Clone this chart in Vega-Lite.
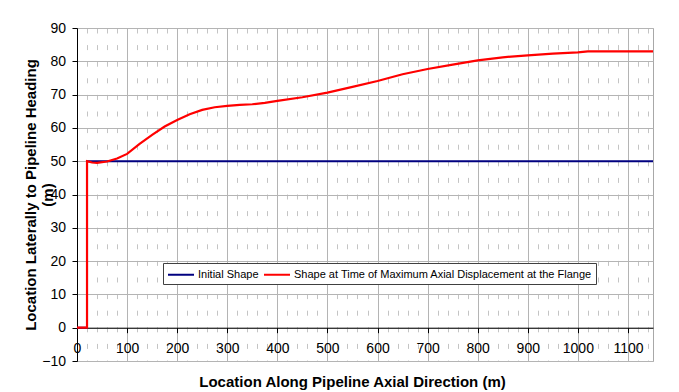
{
  "$schema": "https://vega.github.io/schema/vega-lite/v6.json",
  "width": 576,
  "height": 333,
  "autosize": {"type": "none"},
  "padding": {"left": 77, "top": 28, "right": 26, "bottom": 31},
  "background": "white",
  "config": {
    "font": "Liberation Sans",
    "view": {"stroke": "#a8a8a8", "strokeWidth": 1}
  },
  "data": {
    "values": [
      {"series": "Initial Shape", "k": 0, "x": 0, "y": 0},
      {"series": "Initial Shape", "k": 1, "x": 20, "y": 0},
      {"series": "Initial Shape", "k": 2, "x": 20, "y": 50},
      {"series": "Initial Shape", "k": 3, "x": 1150, "y": 50},
      {"series": "Shape at Time of Maximum Axial Displacement at the Flange", "k": 0, "x": 0, "y": 0},
      {"series": "Shape at Time of Maximum Axial Displacement at the Flange", "k": 1, "x": 20, "y": 0},
      {"series": "Shape at Time of Maximum Axial Displacement at the Flange", "k": 2, "x": 20, "y": 50},
      {"series": "Shape at Time of Maximum Axial Displacement at the Flange", "k": 3, "x": 30, "y": 49.6},
      {"series": "Shape at Time of Maximum Axial Displacement at the Flange", "k": 4, "x": 40, "y": 49.5},
      {"series": "Shape at Time of Maximum Axial Displacement at the Flange", "k": 5, "x": 60, "y": 49.9},
      {"series": "Shape at Time of Maximum Axial Displacement at the Flange", "k": 6, "x": 80, "y": 50.8},
      {"series": "Shape at Time of Maximum Axial Displacement at the Flange", "k": 7, "x": 100, "y": 52.2},
      {"series": "Shape at Time of Maximum Axial Displacement at the Flange", "k": 8, "x": 125, "y": 55.2},
      {"series": "Shape at Time of Maximum Axial Displacement at the Flange", "k": 9, "x": 150, "y": 57.9},
      {"series": "Shape at Time of Maximum Axial Displacement at the Flange", "k": 10, "x": 175, "y": 60.4},
      {"series": "Shape at Time of Maximum Axial Displacement at the Flange", "k": 11, "x": 200, "y": 62.4},
      {"series": "Shape at Time of Maximum Axial Displacement at the Flange", "k": 12, "x": 225, "y": 64.1},
      {"series": "Shape at Time of Maximum Axial Displacement at the Flange", "k": 13, "x": 250, "y": 65.4},
      {"series": "Shape at Time of Maximum Axial Displacement at the Flange", "k": 14, "x": 275, "y": 66.2},
      {"series": "Shape at Time of Maximum Axial Displacement at the Flange", "k": 15, "x": 300, "y": 66.6},
      {"series": "Shape at Time of Maximum Axial Displacement at the Flange", "k": 16, "x": 325, "y": 66.9},
      {"series": "Shape at Time of Maximum Axial Displacement at the Flange", "k": 17, "x": 350, "y": 67.1},
      {"series": "Shape at Time of Maximum Axial Displacement at the Flange", "k": 18, "x": 375, "y": 67.5},
      {"series": "Shape at Time of Maximum Axial Displacement at the Flange", "k": 19, "x": 400, "y": 68.1},
      {"series": "Shape at Time of Maximum Axial Displacement at the Flange", "k": 20, "x": 450, "y": 69.2},
      {"series": "Shape at Time of Maximum Axial Displacement at the Flange", "k": 21, "x": 500, "y": 70.6},
      {"series": "Shape at Time of Maximum Axial Displacement at the Flange", "k": 22, "x": 550, "y": 72.3},
      {"series": "Shape at Time of Maximum Axial Displacement at the Flange", "k": 23, "x": 600, "y": 74.1},
      {"series": "Shape at Time of Maximum Axial Displacement at the Flange", "k": 24, "x": 650, "y": 76.1},
      {"series": "Shape at Time of Maximum Axial Displacement at the Flange", "k": 25, "x": 700, "y": 77.7},
      {"series": "Shape at Time of Maximum Axial Displacement at the Flange", "k": 26, "x": 750, "y": 79.0},
      {"series": "Shape at Time of Maximum Axial Displacement at the Flange", "k": 27, "x": 800, "y": 80.3},
      {"series": "Shape at Time of Maximum Axial Displacement at the Flange", "k": 28, "x": 850, "y": 81.2},
      {"series": "Shape at Time of Maximum Axial Displacement at the Flange", "k": 29, "x": 900, "y": 81.8},
      {"series": "Shape at Time of Maximum Axial Displacement at the Flange", "k": 30, "x": 950, "y": 82.3},
      {"series": "Shape at Time of Maximum Axial Displacement at the Flange", "k": 31, "x": 1000, "y": 82.7},
      {"series": "Shape at Time of Maximum Axial Displacement at the Flange", "k": 32, "x": 1020, "y": 83.0},
      {"series": "Shape at Time of Maximum Axial Displacement at the Flange", "k": 33, "x": 1150, "y": 83.0}
    ]
  },
  "encoding": {
    "x": {
      "field": "x",
      "type": "quantitative",
      "scale": {"domain": [0, 1150], "nice": false, "zero": false},
      "axis": {
        "values": [0, 20, 40, 60, 80, 100, 120, 140, 160, 180, 200, 220, 240, 260, 280, 300, 320, 340, 360, 380, 400, 420, 440, 460, 480, 500, 520, 540, 560, 580, 600, 620, 640, 660, 680, 700, 720, 740, 760, 780, 800, 820, 840, 860, 880, 900, 920, 940, 960, 980, 1000, 1020, 1040, 1060, 1080, 1100, 1120, 1140],
        "offset": -33.3,
        "grid": true,
        "gridColor": {"condition": {"test": "datum.value % 100 === 0", "value": "#b4b4b4"}, "value": "#c4c4c4"},
        "gridDash": {"condition": {"test": "datum.value % 100 === 0", "value": []}, "value": [5, 11.6]},
        "tickSize": {"condition": {"test": "datum.value % 100 === 0", "value": 5}, "value": 0},
        "tickColor": "black",
        "domainColor": "black",
        "labelExpr": "datum.value % 100 === 0 ? datum.label : ''",
        "labelFontSize": 14,
        "labelColor": "black",
        "labelPadding": 8.5,
        "labelOverlap": false,
        "labelFlush": false,
        "labelBound": false,
        "format": "d",
        "title": "Location Along Pipeline Axial Direction (m)",
        "titleFontSize": 15,
        "titleFontWeight": "bold",
        "titleColor": "black",
        "titleX": 275,
        "titleY": 54,
        "titleAlign": "center",
        "titleBaseline": "middle"
      }
    },
    "y": {
      "field": "y",
      "type": "quantitative",
      "scale": {"domain": [-10, 90], "nice": false, "zero": false},
      "axis": {
        "values": [-10, 0, 10, 20, 30, 40, 50, 60, 70, 80, 90],
        "grid": true,
        "gridColor": "#b4b4b4",
        "tickSize": 5,
        "tickColor": "black",
        "domainColor": "black",
        "labelFontSize": 14,
        "labelColor": "black",
        "labelPadding": 6.5,
        "title": ["Location Laterally to Pipeline Heading", "(m)"],
        "titleFontSize": 15,
        "titleFontWeight": "bold",
        "titleColor": "black",
        "titleLineHeight": 17,
        "titleX": -47,
        "titleY": 166.5,
        "titleAngle": 270,
        "titleAlign": "center",
        "titleBaseline": "middle"
      }
    },
    "color": {
      "field": "series",
      "type": "nominal",
      "scale": {
        "domain": ["Initial Shape", "Shape at Time of Maximum Axial Displacement at the Flange"],
        "range": ["#000080", "#ff0000"]
      },
      "legend": {
        "orient": "none",
        "legendX": 86,
        "legendY": 235,
        "direction": "horizontal",
        "title": null,
        "symbolType": "M-1,0H3",
        "symbolSize": 169,
        "symbolStrokeWidth": 2,
        "labelOffset": 16,
        "labelFontSize": 11,
        "labelColor": "black",
        "labelLimit": 0,
        "columnPadding": 1,
        "padding": 4,
        "strokeColor": "#404040",
        "fillColor": "white"
      }
    },
    "order": {"field": "k", "type": "quantitative"}
  },
  "layer": [
    {
      "transform": [{"filter": "datum.series === 'Initial Shape'"}],
      "mark": {"type": "line", "strokeWidth": 2, "clip": true}
    },
    {
      "transform": [{"filter": "datum.series !== 'Initial Shape'"}],
      "mark": {"type": "line", "strokeWidth": 2.2, "clip": true}
    }
  ]
}
